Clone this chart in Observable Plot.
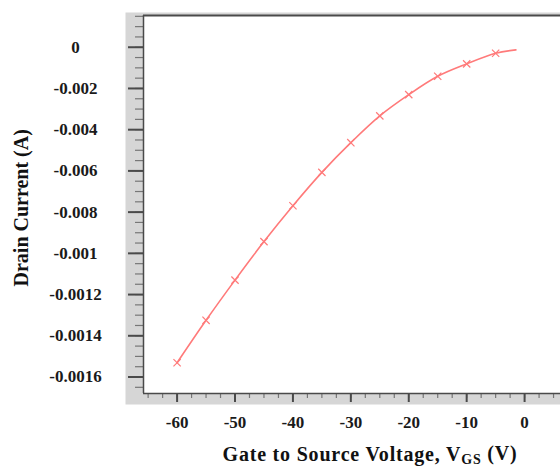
<!DOCTYPE html>
<html>
<head>
<meta charset="utf-8">
<script src="https://cdn.jsdelivr.net/npm/d3@7"></script>
<script src="https://cdn.jsdelivr.net/npm/@observablehq/plot@0.6"></script>
<style>
  html, body { margin: 0; padding: 0; background: #fff; }
  #chart svg { display: block; }
</style>
</head>
<body>
<div id="chart"></div>
<script>
// Data
const vgs = [-60, -55, -50, -45, -40, -35, -30, -25, -20, -15, -10, -5, -1.5];
const drainCurrent = [-0.001531, -0.001325, -0.00113, -0.000943, -0.000769, -0.000607,
  -0.000463, -0.000333, -0.00023, -0.000141, -0.0000807, -0.0000292, -0.0000126];
const markerCount = 12; // markers at -60 ... -5

const xTickValues = [-60, -50, -40, -30, -20, -10, 0];
const xTickLabels = ["-60", "-50", "-40", "-30", "-20", "-10", "0"];
const yTickValues = [0, -0.0002, -0.0004, -0.0006, -0.0008, -0.001, -0.0012, -0.0014, -0.0016];
const yTickLabels = ["0", "-0.002", "-0.004", "-0.006", "-0.008", "-0.001", "-0.0012", "-0.0014", "-0.0016"];
const xTitle = "Gate to Source Voltage, VGS (V)";
const yTitle = "Drain Current (A)";

const xDomain = [-65.8, 6.2];
const yDomain = [-0.00168, 0.000154];
const xMinor = d3.range(-65, 6, 2.5);
const yMinor = d3.range(-0.00165, 0.00016, 0.00005).map(v => +v.toFixed(6));

const data = vgs.map((v, i) => ({v, id: drainCurrent[i]}));
const markers = data.slice(0, markerCount);

const red = "#ff7a7a";
const axisColor = "#4a4a4a";

const chart = Plot.plot({
  width: 560,
  height: 468,
  marginLeft: 143,
  marginRight: 0,
  marginTop: 15,
  marginBottom: 75,
  style: {fontFamily: "'Liberation Serif', 'Times New Roman', serif", background: "#fff"},
  x: {domain: xDomain, axis: null},
  y: {domain: yDomain, axis: null},
  marks: [
    Plot.frame({fill: "#d6d6d6", stroke: null, insetLeft: -18, insetTop: -3, insetBottom: -11}),
    Plot.frame({fill: "#ffffff", stroke: null}),
    // minor ticks
    Plot.axisY({ticks: yMinor, tickSize: 8, tickFormat: () => "", stroke: "#777", strokeWidth: 1.2, label: null}),
    Plot.axisX({ticks: xMinor, tickSize: 5, tickFormat: () => "", stroke: "#777", strokeWidth: 1.2, label: null}),
    // major ticks
    Plot.axisY({ticks: yTickValues, tickSize: 15, tickFormat: () => "", stroke: axisColor, strokeWidth: 2, label: null}),
    Plot.axisX({ticks: xTickValues, tickSize: 9, tickFormat: () => "", stroke: axisColor, strokeWidth: 2, label: null}),
    // frame edges
    Plot.ruleY([yDomain[1]], {stroke: axisColor, strokeWidth: 2}),
    Plot.ruleY([yDomain[0]], {stroke: axisColor, strokeWidth: 1.5}),
    Plot.ruleX([xDomain[0]], {stroke: axisColor, strokeWidth: 1.5}),
    // data
    Plot.line(data, {x: "v", y: "id", stroke: red, strokeWidth: 1.6, curve: "catmull-rom"}),
    Plot.dot(markers, {x: "v", y: "id", symbol: "times", r: 3.4, stroke: red, strokeWidth: 1.2}),
    // tick labels
    Plot.text(yTickValues, {y: d => d, text: (d, i) => yTickLabels[i], frameAnchor: "left", dx: -68,
      textAnchor: "middle", fontSize: 17, fontWeight: "bold", fill: "#1a1a1a"}),
    Plot.text(xTickValues, {x: d => d, text: (d, i) => xTickLabels[i], frameAnchor: "bottom", dy: 34,
      fontSize: 17, fontWeight: "bold", fill: "#1a1a1a"}),
    // titles
    Plot.text([xTitle], {text: d => d, frameAnchor: "bottom", dx: 18, dy: 67, fontSize: 20,
      fontWeight: "bold", fill: "#111"}),
    Plot.text([yTitle], {text: d => d, frameAnchor: "left", dx: -121.5, dy: 82, rotate: -90,
      fontSize: 20, fontWeight: "bold", fill: "#111"})
  ]
});

document.getElementById("chart").appendChild(chart);

// subscript "GS" in the x-axis title
d3.select(chart).selectAll("text").each(function () {
  const t = d3.select(this);
  if (t.text() === xTitle) {
    t.text(null);
    t.attr("letter-spacing", "0.8px");
    t.append("tspan").text("Gate to Source Voltage, V");
    t.append("tspan").text("GS").attr("font-size", "70%").attr("dy", "0.25em");
    t.append("tspan").text(" (V)").attr("dy", "-0.18em");
  }
});
</script>
</body>
</html>
